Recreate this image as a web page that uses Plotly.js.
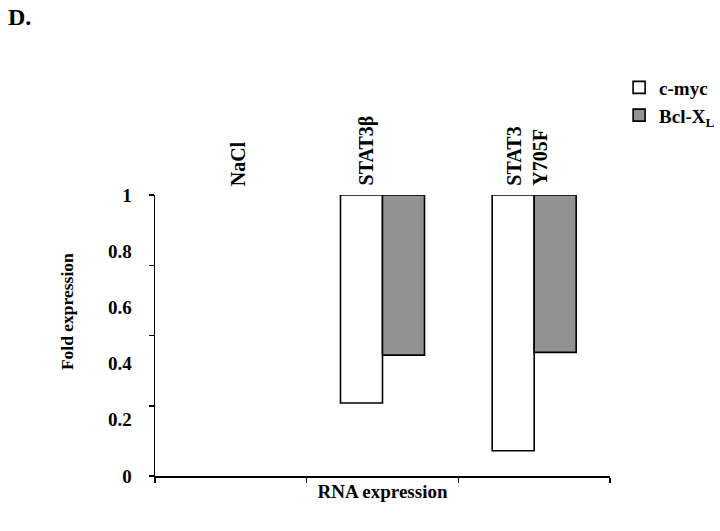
<!DOCTYPE html>
<html>
<head>
<meta charset="utf-8">
<script src="https://cdn.plot.ly/plotly-3.0.1.min.js"></script>
<style>
  body { margin: 0; background: #fff; }
  #chart { width: 720px; height: 531px; }
</style>
</head>
<body>
<div id="chart"></div>
<script>
// fold expression, bars hang down from 1
var groups = ["NaCl", "STAT3b", "STAT3 Y705F"];
var groupLabels = ["NaCl", "STAT3β", "STAT3<br>Y705F"];
var cmyc = [1, 0.26, 0.09];
var bclxl = [1, 0.43, 0.44];
var yTickVals = [0, 0.2, 0.4, 0.6, 0.8, 1];
var yTickText = ["0", "0.2", "0.4", "0.6", "0.8", "1"];
var yMarkVals = [0, 0.25, 0.5, 0.75, 1];

var serif = "Liberation Serif, Times New Roman, serif";

// bar length below 1; a fold of exactly 1 has no bar at all
function hang(vals) {
    return vals.map(function (v) { return v === 1 ? null : v - 1; });
}

var traces = [
    {
        type: "bar",
        name: "c-myc",
        x: groups,
        y: hang(cmyc),
        base: 1,
        marker: { color: "#ffffff", line: { color: "#000", width: 1.6 } },
        hoverinfo: "skip"
    },
    {
        type: "bar",
        name: "Bcl-X<sub>L</sub>",
        x: groups,
        y: hang(bclxl),
        base: 1,
        marker: { color: "#929292", line: { color: "#000", width: 1.6 } },
        hoverinfo: "skip"
    }
];

// shifts of the rotated group labels, as in the original
var labelShift = [8, -16, -7];
var annotations = groups.map(function (g, i) {
    return {
        x: g,
        y: 1.025,
        xref: "x",
        yref: "paper",
        text: groupLabels[i],
        textangle: -90,
        showarrow: false,
        xanchor: "center",
        yanchor: "bottom",
        align: "left",
        xshift: labelShift[i],
        font: { family: serif, size: 20, color: "#000", weight: "bold" }
    };
});

// y title sits a bit above the middle of the axis in the original
annotations.push({
    text: "Fold expression",
    xref: "paper",
    yref: "paper",
    x: -0.193,
    y: 0.584,
    xanchor: "center",
    yanchor: "middle",
    textangle: -90,
    showarrow: false,
    font: { family: serif, size: 17.5, color: "#000", weight: "bold" }
});

var layout = {
    width: 720,
    height: 531,
    margin: { l: 155, r: 110, t: 195, b: 55, autoexpand: false },
    paper_bgcolor: "#fff",
    plot_bgcolor: "#fff",
    barmode: "group",
    bargap: 0.446,
    bargroupgap: 0,
    showlegend: true,
    title: {
        text: "D.",
        xref: "container",
        yref: "container",
        x: 8 / 720,
        xanchor: "left",
        y: 1 - 8 / 531,
        yanchor: "top",
        font: { family: serif, size: 24, color: "#000", weight: "bold" }
    },
    legend: {
        x: 1.02,
        xanchor: "left",
        y: 1.45,
        yanchor: "top",
        font: { family: serif, size: 19, color: "#000", weight: "bold" },
        itemwidth: 30,
        tracegroupgap: 0
    },
    xaxis: {
        type: "category",
        showline: true,
        linecolor: "#000",
        linewidth: 1.5,
        ticks: "outside",
        tickson: "boundaries",
        ticklen: 5,
        tickcolor: "#000",
        tickwidth: 1.5,
        showticklabels: false,
        showgrid: false,
        zeroline: false,
        title: {
            text: "RNA expression",
            standoff: 8,
            font: { family: serif, size: 19, color: "#000", weight: "bold" }
        }
    },
    yaxis: {
        range: [0, 1],
        showline: true,
        linecolor: "#000",
        linewidth: 1.5,
        tickvals: yTickVals,
        ticktext: yTickText,
        ticks: "",
        ticklabelstandoff: 18,
        showgrid: false,
        zeroline: false,
        tickfont: { family: serif, size: 19, color: "#000", weight: "bold" },
        minor: {
            tickvals: yMarkVals,
            ticks: "outside",
            ticklen: 5,
            tickwidth: 1.5,
            tickcolor: "#000",
            showgrid: false
        }
    },
    annotations: annotations
};

Plotly.newPlot("chart", traces, layout, { staticPlot: true });
</script>
</body>
</html>
